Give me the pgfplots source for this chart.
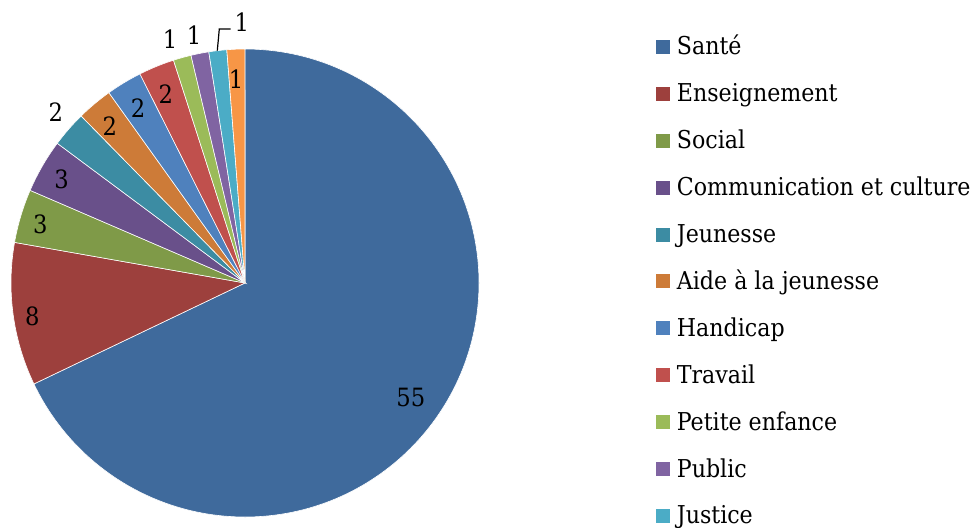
\documentclass[border=0pt]{standalone}
\usepackage{pgfplots}
\pgfplotsset{compat=1.18}
\usepackage{fontspec}
\setmainfont{DejaVu Serif Condensed}
\definecolor{c1}{HTML}{3F6A9C}
\definecolor{c2}{HTML}{9D403D}
\definecolor{c3}{HTML}{7F9A48}
\definecolor{c4}{HTML}{69508A}
\definecolor{c5}{HTML}{3C8CA3}
\definecolor{c6}{HTML}{CD7B38}
\definecolor{c7}{HTML}{4F81BD}
\definecolor{c8}{HTML}{C0504D}
\definecolor{c9}{HTML}{9BBB59}
\definecolor{c10}{HTML}{8064A2}
\definecolor{c11}{HTML}{4BACC6}
\definecolor{c12}{HTML}{F79646}
\newcommand\lblfont{\fontsize{12.6}{15}\selectfont}
\newcommand\legfont{\fontsize{12.3}{15}\selectfont}
\begin{document}
\begin{tikzpicture}
\useasboundingbox (0,0) rectangle (487.5pt,263.5pt);
\begin{axis}[hide axis, scale only axis, width=234pt, height=234pt,
  xmin=-1, xmax=1, ymin=-1, ymax=1, at={(122.5pt,122pt)}, anchor=center, clip=false,
  legend image code/.code={\fill[#1] (0pt,0.5pt) rectangle (7pt,7.5pt);},
  legend style={draw=none, fill=none, at={(1.378,1.03)}, anchor=north west,
    inner sep=0pt, outer sep=0pt, row sep=10.45pt, column sep=3.5pt,
    nodes={inner sep=0pt, outer sep=0pt, text height=10pt, text depth=3pt, anchor=base west},
    font=\legfont},
  legend cell align=left]
\addlegendimage{fill=c1, draw=none}\addlegendentry{Santé}
\addlegendimage{fill=c2, draw=none}\addlegendentry{Enseignement}
\addlegendimage{fill=c3, draw=none}\addlegendentry{Social}
\addlegendimage{fill=c4, draw=none}\addlegendentry{Communication et culture}
\addlegendimage{fill=c5, draw=none}\addlegendentry{Jeunesse}
\addlegendimage{fill=c6, draw=none}\addlegendentry{Aide à la jeunesse}
\addlegendimage{fill=c7, draw=none}\addlegendentry{Handicap}
\addlegendimage{fill=c8, draw=none}\addlegendentry{Travail}
\addlegendimage{fill=c9, draw=none}\addlegendentry{Petite enfance}
\addlegendimage{fill=c10, draw=none}\addlegendentry{Public}
\addlegendimage{fill=c11, draw=none}\addlegendentry{Justice}
\pgfplotsextra{
  % value / colour / label radius factor / label angle shift
  \gdef\cumangle{90}
  \foreach \v/\c/\f/\d in {55/c1/0.86/-2.3, 8/c2/0.92/1.1, 3/c3/0.91/0.6, 3/c4/0.90/0.6,
      2/c5/1.09/-1.0, 2/c6/0.885/0.7, 2/c7/0.876/0.3, 2/c8/0.876/0.5,
      1/c9/1.09/1.5, 1/c10/1.08/0.5, 1/c11/1.115/-6, 1/c12/0.87/0.3}{
    \pgfmathsetmacro\s{\cumangle}
    \pgfmathsetmacro\e{\s-\v/81*360}
    \pgfmathsetmacro\m{(\s+\e)/2+\d}
    \pgfmathsetmacro\r{\f*117}
    \fill[\c, draw=white, line width=0.3pt] (axis cs:0,0) -- ++(\s:117pt) arc[start angle=\s, end angle=\e, radius=117pt] -- cycle;
    \node[font=\lblfont, inner sep=0pt, anchor=center] at ([shift={(\m:\r pt)}]axis cs:0,0) {\v};
    \xdef\cumangle{\e}
  }
  \draw[black, line width=0.6pt] ([shift={(-13.85pt,116.15pt)}]axis cs:0,0) -- ([shift={(-12.85pt,127pt)}]axis cs:0,0) -- ([shift={(-7.15pt,127pt)}]axis cs:0,0);
}
\end{axis}
\end{tikzpicture}
\end{document}
